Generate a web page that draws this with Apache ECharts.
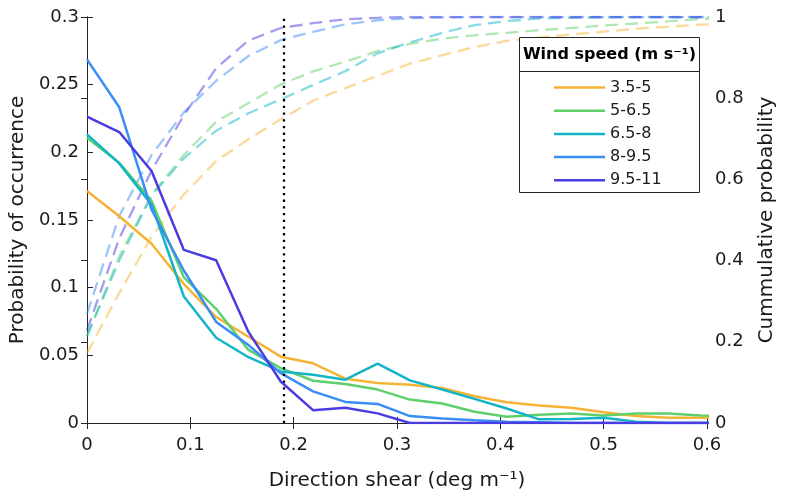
<!DOCTYPE html>
<html>
<head>
<meta charset="utf-8">
<script src="https://cdn.jsdelivr.net/npm/echarts@6/dist/echarts.min.js"></script>
<style>
html,body{margin:0;padding:0;background:#fff;}
#chart{width:785px;height:496px;}
</style>
</head>
<body>
<div id="chart"></div>
<script>
// ---- data ----
const shear = [0, 0.03125, 0.0625, 0.09375, 0.125, 0.15625, 0.1875, 0.21875, 0.25, 0.28125, 0.3125, 0.34375, 0.375, 0.40625, 0.4375, 0.46875, 0.5, 0.53125, 0.5625, 0.59375, 0.625];
const windBins = ['3.5-5', '5-6.5', '6.5-8', '8-9.5', '9.5-11'];

const prob_3_5_5   = [0.1715, 0.1528, 0.1325, 0.1027, 0.0783, 0.0637, 0.049, 0.0441, 0.0327, 0.0295, 0.0283, 0.0258, 0.0198, 0.0154, 0.013, 0.0112, 0.008, 0.0051, 0.0039, 0.0039, 0.004];
const prob_5_6_5   = [0.2108, 0.1923, 0.164, 0.1076, 0.0844, 0.054, 0.0405, 0.0312, 0.0288, 0.0247, 0.0173, 0.0144, 0.0083, 0.0046, 0.0061, 0.0071, 0.0056, 0.0071, 0.0071, 0.0056, 0.005];
const prob_6_5_8   = [0.2133, 0.1918, 0.1613, 0.0935, 0.063, 0.0486, 0.0381, 0.0357, 0.032, 0.0439, 0.0315, 0.0247, 0.0178, 0.0107, 0.0027, 0.0029, 0.0039, 0.001, 0, 0, 0];
const prob_8_9_5   = [0.2687, 0.2333, 0.1576, 0.1127, 0.0747, 0.0576, 0.0368, 0.0234, 0.0156, 0.0141, 0.0051, 0.0034, 0.002, 0.001, 0.0005, 0, 0, 0, 0, 0, 0];
const prob_9_5_11  = [0.2264, 0.215, 0.1862, 0.1279, 0.1203, 0.0673, 0.0307, 0.0095, 0.0112, 0.0071, 0, 0, 0, 0, 0, 0, 0, 0, 0, 0, 0];

const cum_3_5_5   = [0.172, 0.32, 0.459, 0.563, 0.645, 0.699, 0.748, 0.794, 0.825, 0.855, 0.885, 0.906, 0.926, 0.941, 0.949, 0.957, 0.964, 0.971, 0.976, 0.981, 0.985];
const cum_5_6_5   = [0.213, 0.41, 0.562, 0.66, 0.742, 0.788, 0.834, 0.866, 0.89, 0.916, 0.934, 0.9465, 0.955, 0.961, 0.9675, 0.973, 0.979, 0.984, 0.989, 0.995, 1.0];
const cum_6_5_8   = [0.215, 0.40, 0.56, 0.652, 0.72, 0.763, 0.797, 0.8325, 0.8667, 0.9106, 0.9375, 0.961, 0.98, 0.99, 0.996, 0.998, 0.999, 1, 1, 1, 1];
const cum_8_9_5   = [0.269, 0.51, 0.66, 0.765, 0.843, 0.904, 0.943, 0.9636, 0.982, 0.992, 0.997, 0.999, 1, 1, 1, 1, 1, 1, 1, 1, 1];
const cum_9_5_11  = [0.228, 0.455, 0.622, 0.758, 0.874, 0.942, 0.973, 0.9847, 0.9945, 0.998, 1, 1, 1, 1, 1, 1, 1, 1, 1, 1, 1];

const thresholdShear = 0.1875;

const probSeries = [prob_3_5_5, prob_5_6_5, prob_6_5_8, prob_8_9_5, prob_9_5_11];
const cumSeries  = [cum_3_5_5, cum_5_6_5, cum_6_5_8, cum_8_9_5, cum_9_5_11];

// ---- styling ----
const colors = ['#f5b335', '#5fcf6b', '#12b5c8', '#3a8df5', '#4a3ce0'];
const FONT = 'DejaVu Sans';
const AX = '#262626';

const pairs = arr => shear.map((x, i) => [x, arr[i]]);

const series = [];
cumSeries.forEach((arr, i) => {
  series.push({
    name: windBins[i] + ' cumulative',
    type: 'line',
    xAxisIndex: 0,
    yAxisIndex: 1,
    data: pairs(arr),
    showSymbol: false,
    symbol: 'none',
    silent: true,
    z: 2,
    lineStyle: { color: colors[i], width: 2.3, type: [13, 7], opacity: 0.5 },
    itemStyle: { color: colors[i] }
  });
});
probSeries.forEach((arr, i) => {
  const s = {
    name: windBins[i],
    type: 'line',
    xAxisIndex: 0,
    yAxisIndex: 0,
    data: pairs(arr),
    showSymbol: false,
    symbol: 'none',
    z: 3,
    lineStyle: { color: colors[i], width: 2.5 },
    itemStyle: { color: colors[i] }
  };
  if (i === 0) {
    s.markLine = {
      silent: true,
      symbol: 'none',
      animation: false,
      label: { show: false },
      lineStyle: { color: '#000', type: [2.3, 4.4], width: 2.3 },
      data: [{ xAxis: thresholdShear }]
    };
  }
  series.push(s);
});

const chart = echarts.init(document.getElementById('chart'), null, { renderer: 'canvas' });

const gridL = 84, gridT = 17, gridR = 67, gridB = 69;

chart.setOption({
  animation: false,
  backgroundColor: '#fff',
  textStyle: { fontFamily: FONT },
  grid: { left: gridL, top: gridT, right: gridR, bottom: gridB, containLabel: false },
  xAxis: [
    {
      type: 'value', position: 'bottom', min: 0, max: 0.6, interval: 0.1,
      axisLine: { show: true, lineStyle: { color: AX, width: 1 } },
      axisTick: { show: true, inside: true, length: 6, lineStyle: { color: AX } },
      splitLine: { show: false },
      axisLabel: { fontFamily: FONT, fontSize: 18, color: '#1a1a1a', margin: 13 },
      name: 'Direction shear (deg m⁻¹)',
      nameLocation: 'middle', nameGap: 48,
      nameTextStyle: { fontFamily: FONT, fontSize: 20, color: '#1a1a1a' }
    },
    {
      type: 'value', position: 'top', min: 0, max: 0.6, interval: 0.1,
      axisLine: { show: true, lineStyle: { color: AX, width: 1 } },
      axisTick: { show: true, inside: true, length: 6, lineStyle: { color: AX } },
      splitLine: { show: false },
      axisLabel: { show: false }
    }
  ],
  yAxis: [
    {
      type: 'value', position: 'left', min: 0, max: 0.3, interval: 0.05,
      axisLine: { show: true, lineStyle: { color: AX, width: 1 } },
      axisTick: { show: true, inside: true, length: 6, lineStyle: { color: AX } },
      splitLine: { show: false },
      axisLabel: { fontFamily: FONT, fontSize: 18, color: '#1a1a1a', margin: 8 },
      name: 'Probability of occurrence',
      nameLocation: 'middle', nameGap: 54, nameRotate: 90,
      nameTextStyle: { fontFamily: FONT, fontSize: 20, color: '#1a1a1a' }
    },
    {
      type: 'value', position: 'right', min: 0, max: 1, interval: 0.2,
      axisLine: { show: true, lineStyle: { color: AX, width: 1 } },
      axisTick: { show: true, inside: true, length: 6, lineStyle: { color: AX } },
      splitLine: { show: false },
      axisLabel: { fontFamily: FONT, fontSize: 18, color: '#1a1a1a', margin: 8 },
      name: 'Cummulative probability',
      nameLocation: 'middle', nameGap: 50, nameRotate: 90,
      nameTextStyle: { fontFamily: FONT, fontSize: 20, color: '#1a1a1a' }
    }
  ],
  legend: {
    data: windBins,
    orient: 'vertical',
    left: 554, top: 79.5,
    padding: 0,
    itemWidth: 51, itemHeight: 2.5, itemGap: 7.2,
    icon: 'rect',
    z: 12,
    selectedMode: false,
    textStyle: { fontFamily: FONT, fontSize: 16, color: '#1a1a1a', lineHeight: 16, padding: [0, 0, 0, 0] }
  },
  graphic: [
    {
      type: 'rect', z: 10, silent: true,
      shape: { x: 519.5, y: 37.5, width: 180, height: 155 },
      style: { fill: '#fff', stroke: AX, lineWidth: 1 }
    },
    {
      type: 'line', z: 11, silent: true,
      shape: { x1: 519.5, y1: 71.5, x2: 699.5, y2: 71.5 },
      style: { stroke: AX, lineWidth: 1 }
    },
    {
      type: 'text', z: 11, silent: true,
      style: {
        x: 609.5, y: 55, text: 'Wind speed (m s⁻¹)',
        textAlign: 'center', textVerticalAlign: 'middle',
        font: 'bold 16px "DejaVu Sans"', fill: '#000'
      }
    }
  ],
  series: series
});
</script>
</body>
</html>
